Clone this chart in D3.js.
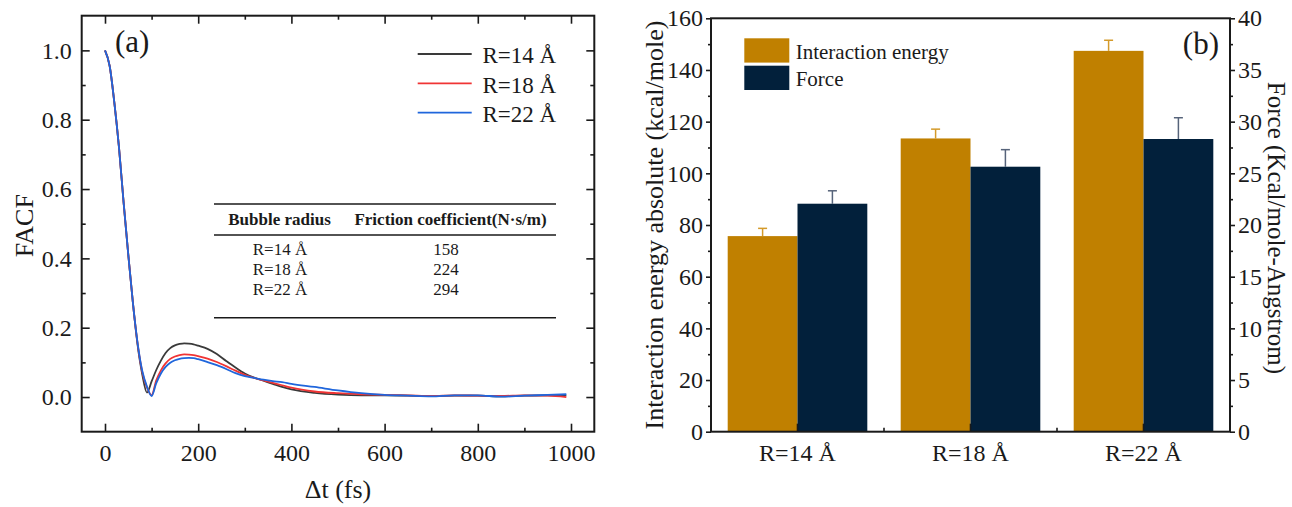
<!DOCTYPE html>
<html>
<head>
<meta charset="utf-8">
<script src="https://cdn.jsdelivr.net/npm/d3@7"></script>
<style>
  html, body { margin: 0; padding: 0; background: #fff; }
  svg { display: block; font-family: "Liberation Serif", "Times New Roman", serif; }
</style>
</head>
<body>
<svg id="chart" width="1292" height="507"></svg>
<script>
// ---------- Panel (a) data ----------
const timeFs = [0,10,20,30,40,50,60,70,80,90,100,110,120,130,140,150,160,170,180,190,200,220,240,260,280,300,320,340,360,380,400,450,500,550,600,650,700,750,800,850,900,950,990];
const facfR14 = [1.0,0.955,0.85,0.72,0.56,0.41,0.27,0.15,0.065,0.013,0.045,0.078,0.105,0.127,0.141,0.149,0.153,0.155,0.154,0.152,0.148,0.139,0.124,0.104,0.085,0.068,0.056,0.047,0.038,0.029,0.022,0.012,0.007,0.005,0.005,0.004,0.003,0.004,0.004,0.002,0.004,0.005,0.005];
const facfR18 = [1.0,0.955,0.85,0.72,0.56,0.41,0.27,0.153,0.072,0.028,0.005,0.048,0.077,0.097,0.110,0.117,0.121,0.123,0.1225,0.121,0.118,0.111,0.101,0.089,0.076,0.064,0.055,0.048,0.041,0.034,0.027,0.016,0.011,0.008,0.006,0.005,0.003,0.005,0.004,0.003,0.005,0.004,0.0];
const facfR22 = [1.0,0.955,0.85,0.72,0.56,0.41,0.27,0.155,0.075,0.03,0.003,0.04,0.068,0.087,0.099,0.106,0.110,0.112,0.113,0.112,0.109,0.101,0.092,0.081,0.069,0.060,0.055,0.050,0.046,0.043,0.038,0.029,0.019,0.011,0.006,0.004,0.002,0.005,0.005,0.001,0.004,0.006,0.008];
const lineNames = ["R=14 Å", "R=18 Å", "R=22 Å"];
const lineColors = ["#3a3a3a", "#f03434", "#1f66dc"];
const xTicksA = [0,200,400,600,800,1000];
const xMinorA = [100,300,500,700,900];
const yTicksA = [0.0,0.2,0.4,0.6,0.8,1.0];
const yMinorA = [0.1,0.3,0.5,0.7,0.9];

// table in panel (a)
const tableHeader = ["Bubble radius", "Friction coefficient(N·s/m)"];
const tableRadius = ["R=14 Å", "R=18 Å", "R=22 Å"];
const tableFriction = ["158", "224", "294"];

// ---------- Panel (b) data ----------
const categories = ["R=14 Å", "R=18 Å", "R=22 Å"];
const seriesNames = ["Interaction energy", "Force"];
const energyVals = [75.7, 113.5, 147.4];
const energyErr = [3.0, 3.6, 4.1];
const forceVals = [22.06, 25.64, 28.32];
const forceErr = [1.25, 1.65, 2.06];
const yTicksL = [0,20,40,60,80,100,120,140,160];
const yMinorL = [10,30,50,70,90,110,130,150];
const yTicksR = [0,5,10,15,20,25,30,35,40];
const yMinorR = [2.5,7.5,12.5,17.5,22.5,27.5,32.5,37.5];
const barColors = ["#c08000", "#02203b"];
const errColors = ["#d49a2a", "#56637a"];

const svg = d3.select("#chart");
const FONT = '"Liberation Serif", "Times New Roman", serif';

// ================= Panel (a) =================
const A = { l: 81.7, r: 594.3, t: 15.7, b: 431.7 };
const xA = d3.scaleLinear().domain([-50, 1050]).range([A.l, A.r]);
const yA = d3.scaleLinear().domain([-0.1, 1.1]).range([A.b, A.t]);
const gA = svg.append("g");

function styleAxis(g, size) {
  g.attr("font-family", FONT);
  g.select(".domain").remove();
  g.selectAll(".tick line").attr("stroke", "#1a1a1a").attr("stroke-width", 1.6);
  g.selectAll(".tick text").attr("font-family", FONT).attr("font-size", size).attr("fill", "#1a1a1a");
}

// lines
const seriesA = [facfR14, facfR18, facfR22];
const lineGen = d3.line().x((d, i) => xA(timeFs[i])).y(d => yA(d)).curve(d3.curveMonotoneX);
seriesA.forEach((s, k) => {
  gA.append("path").datum(s).attr("d", lineGen)
    .attr("fill", "none").attr("stroke", lineColors[k]).attr("stroke-width", 1.8);
});

// axes
const fmtA = d3.format(".1f");
gA.append("g").attr("transform", `translate(0,${A.b})`)
  .call(d3.axisBottom(xA).tickValues(xTicksA).tickSize(-8).tickPadding(12).tickFormat(d3.format("d")))
  .call(g => styleAxis(g, 24));
gA.append("g").attr("transform", `translate(0,${A.b})`)
  .call(d3.axisBottom(xA).tickValues(xMinorA).tickSize(-4).tickFormat(""))
  .call(g => styleAxis(g, 24));
gA.append("g").attr("transform", `translate(0,${A.t})`)
  .call(d3.axisTop(xA).tickValues(xTicksA).tickSize(-8).tickFormat(""))
  .call(g => styleAxis(g, 24));
gA.append("g").attr("transform", `translate(0,${A.t})`)
  .call(d3.axisTop(xA).tickValues(xMinorA).tickSize(-4).tickFormat(""))
  .call(g => styleAxis(g, 24));
gA.append("g").attr("transform", `translate(${A.l},0)`)
  .call(d3.axisLeft(yA).tickValues(yTicksA).tickSize(-8).tickPadding(10).tickFormat(fmtA))
  .call(g => styleAxis(g, 24));
gA.append("g").attr("transform", `translate(${A.l},0)`)
  .call(d3.axisLeft(yA).tickValues(yMinorA).tickSize(-4).tickFormat(""))
  .call(g => styleAxis(g, 24));
gA.append("g").attr("transform", `translate(${A.r},0)`)
  .call(d3.axisRight(yA).tickValues(yTicksA).tickSize(-8).tickFormat(""))
  .call(g => styleAxis(g, 24));
gA.append("g").attr("transform", `translate(${A.r},0)`)
  .call(d3.axisRight(yA).tickValues(yMinorA).tickSize(-4).tickFormat(""))
  .call(g => styleAxis(g, 24));
gA.append("rect").attr("x", A.l).attr("y", A.t).attr("width", A.r - A.l).attr("height", A.b - A.t)
  .attr("fill", "none").attr("stroke", "#1a1a1a").attr("stroke-width", 2);

// axis titles
gA.append("text").attr("x", (A.l + A.r) / 2).attr("y", 498).attr("text-anchor", "middle")
  .attr("font-family", FONT).attr("font-size", 26).attr("fill", "#1a1a1a").text("Δt (fs)");
gA.append("text").attr("transform", `translate(33,${(A.t + A.b) / 2 + 2}) rotate(-90)`).attr("text-anchor", "middle")
  .attr("font-family", FONT).attr("font-size", 26).attr("fill", "#1a1a1a").text("FACF");

// (a) label
gA.append("text").attr("x", 115).attr("y", 52).attr("font-family", FONT).attr("font-size", 31)
  .attr("fill", "#1a1a1a").text("(a)");

// legend
lineNames.forEach((n, i) => {
  const y = 54 + i * 29.3;
  gA.append("line").attr("x1", 417.7).attr("x2", 471.7).attr("y1", y).attr("y2", y)
    .attr("stroke", lineColors[i]).attr("stroke-width", 1.8);
  gA.append("text").attr("x", 482.5).attr("y", y + 9.3).attr("font-family", FONT).attr("font-size", 23)
    .attr("fill", "#1a1a1a").text(n);
});

// table
const tb = { x1: 214, x2: 556, top: 204, head: 235, bottom: 317.7 };
[tb.top, tb.head, tb.bottom].forEach(y => {
  gA.append("line").attr("x1", tb.x1).attr("x2", tb.x2).attr("y1", y).attr("y2", y)
    .attr("stroke", "#1a1a1a").attr("stroke-width", 1.5);
});
const colX = [279.5, 450.5];
tableHeader.forEach((h, i) => {
  gA.append("text").attr("x", colX[i]).attr("y", 225).attr("text-anchor", "middle")
    .attr("font-family", FONT).attr("font-size", 17).attr("font-weight", "bold").attr("fill", "#1a1a1a").text(h);
});
tableRadius.forEach((r, i) => {
  const y = 255 + i * 20;
  gA.append("text").attr("x", 280).attr("y", y).attr("text-anchor", "middle")
    .attr("font-family", FONT).attr("font-size", 17).attr("fill", "#1a1a1a").text(r);
  gA.append("text").attr("x", 446).attr("y", y).attr("text-anchor", "middle")
    .attr("font-family", FONT).attr("font-size", 17).attr("fill", "#1a1a1a").text(tableFriction[i]);
});

// ================= Panel (b) =================
const B = { l: 711, r: 1230, t: 18.3, b: 431.7 };
const xB = d3.scaleBand().domain(categories).range([B.l, B.r]).padding(0);
const bw = xB.bandwidth();
const xInner = d3.scaleBand().domain(seriesNames).range([bw * 0.0965, bw * (1 - 0.0965)]).padding(0);
const yL = d3.scaleLinear().domain([0, 160]).range([B.b, B.t]);
const yR = d3.scaleLinear().domain([0, 40]).range([B.b, B.t]);
const gB = svg.append("g");

const barData = [];
categories.forEach((c, i) => {
  barData.push({ cat: c, s: seriesNames[0], v: energyVals[i], e: energyErr[i], y: yL, k: 0 });
  barData.push({ cat: c, s: seriesNames[1], v: forceVals[i], e: forceErr[i], y: yR, k: 1 });
});

// error bars (upper only)
barData.forEach(d => {
  const cx = xB(d.cat) + xInner(d.s) + xInner.bandwidth() / 2;
  const yTop = d.y(d.v + d.e);
  gB.append("line").attr("x1", cx).attr("x2", cx).attr("y1", d.y(d.v)).attr("y2", yTop)
    .attr("stroke", errColors[d.k]).attr("stroke-width", 1.5);
  gB.append("line").attr("x1", cx - 4.5).attr("x2", cx + 4.5).attr("y1", yTop).attr("y2", yTop)
    .attr("stroke", errColors[d.k]).attr("stroke-width", 1.5);
});

gB.selectAll("rect.bar").data(barData).enter().append("rect").attr("class", "bar")
  .attr("x", d => xB(d.cat) + xInner(d.s))
  .attr("y", d => d.y(d.v))
  .attr("width", xInner.bandwidth())
  .attr("height", d => B.b - d.y(d.v))
  .attr("fill", d => barColors[d.k]);

// axes
gB.append("g").attr("transform", `translate(${B.l},0)`)
  .call(d3.axisLeft(yL).tickValues(yTicksL).tickSize(5).tickPadding(3).tickFormat(d3.format("d")))
  .call(g => styleAxis(g, 24));
gB.append("g").attr("transform", `translate(${B.l},0)`)
  .call(d3.axisLeft(yL).tickValues(yMinorL).tickSize(3).tickFormat(""))
  .call(g => styleAxis(g, 24));
gB.append("g").attr("transform", `translate(${B.r},0)`)
  .call(d3.axisRight(yR).tickValues(yTicksR).tickSize(5).tickPadding(3).tickFormat(d3.format("d")))
  .call(g => styleAxis(g, 24));
gB.append("g").attr("transform", `translate(${B.r},0)`)
  .call(d3.axisRight(yR).tickValues(yMinorR).tickSize(3).tickFormat(""))
  .call(g => styleAxis(g, 24));
gB.append("g").attr("transform", `translate(0,${B.b})`)
  .call(d3.axisBottom(xB).tickSize(-8).tickPadding(12))
  .call(g => styleAxis(g, 24));
// minor ticks at category boundaries
const boundaries = categories.slice(1).map(c => xB(c));
gB.selectAll("line.minorB").data(boundaries).enter().append("line").attr("class", "minorB")
  .attr("x1", d => d).attr("x2", d => d).attr("y1", B.b).attr("y2", B.b - 4)
  .attr("stroke", "#1a1a1a").attr("stroke-width", 1.6);

gB.append("rect").attr("x", B.l).attr("y", B.t).attr("width", B.r - B.l).attr("height", B.b - B.t)
  .attr("fill", "none").attr("stroke", "#1a1a1a").attr("stroke-width", 2);

// axis titles
gB.append("text").attr("transform", `translate(663,${(B.t + B.b) / 2}) rotate(-90)`).attr("text-anchor", "middle")
  .attr("font-family", FONT).attr("font-size", 26).attr("fill", "#1a1a1a")
  .text("Interaction energy absolute (kcal/mole)");
gB.append("text").attr("transform", `translate(1268,${(B.t + B.b) / 2 + 3}) rotate(90)`).attr("text-anchor", "middle")
  .attr("font-family", FONT).attr("font-size", 25).attr("fill", "#1a1a1a")
  .text("Force (Kcal/mole-Angstrom)");

// (b) label
gB.append("text").attr("x", 1219).attr("y", 54).attr("text-anchor", "end")
  .attr("font-family", FONT).attr("font-size", 31).attr("fill", "#1a1a1a").text("(b)");

// legend
seriesNames.forEach((n, i) => {
  const y0 = 38.3 + i * 27.4;
  gB.append("rect").attr("x", 744.3).attr("y", y0).attr("width", 45).attr("height", 24.3)
    .attr("fill", barColors[i]);
  gB.append("text").attr("x", 795.7).attr("y", y0 + 20.5).attr("font-family", FONT).attr("font-size", 21)
    .attr("fill", "#1a1a1a").text(n);
});
</script>
</body>
</html>
